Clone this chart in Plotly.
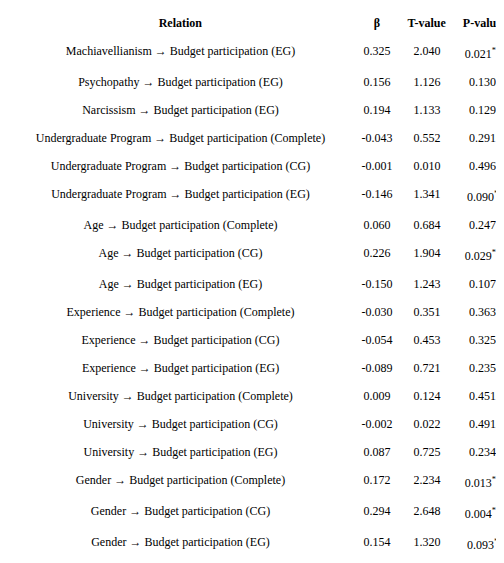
import plotly.graph_objects as go

relations = [
    "Machiavellianism → Budget participation (EG)",
    "Psychopathy → Budget participation (EG)",
    "Narcissism → Budget participation (EG)",
    "Undergraduate Program → Budget participation (Complete)",
    "Undergraduate Program → Budget participation (CG)",
    "Undergraduate Program → Budget participation (EG)",
    "Age → Budget participation (Complete)",
    "Age → Budget participation (CG)",
    "Age → Budget participation (EG)",
    "Experience → Budget participation (Complete)",
    "Experience → Budget participation (CG)",
    "Experience → Budget participation (EG)",
    "University → Budget participation (Complete)",
    "University → Budget participation (CG)",
    "University → Budget participation (EG)",
    "Gender → Budget participation (Complete)",
    "Gender → Budget participation (CG)",
    "Gender → Budget participation (EG)",
]
beta = ["0.325", "0.156", "0.194", "-0.043", "-0.001", "-0.146", "0.060", "0.226", "-0.150",
        "-0.030", "-0.054", "-0.089", "0.009", "-0.002", "0.087", "0.172", "0.294", "0.154"]
t_value = ["2.040", "1.126", "1.133", "0.552", "0.010", "1.341", "0.684", "1.904", "1.243",
           "0.351", "0.453", "0.721", "0.124", "0.022", "0.725", "2.234", "2.648", "1.320"]
p_value = ["0.021<sup>**</sup>", "0.130", "0.129", "0.291", "0.496", "0.090<sup>*</sup>", "0.247",
           "0.029<sup>**</sup>", "0.107", "0.363", "0.325", "0.235", "0.451", "0.491", "0.234",
           "0.013<sup>**</sup>", "0.004<sup>**</sup>", "0.093<sup>*</sup>"]

serif = "Liberation Serif, Times New Roman, serif"
fig = go.Figure(go.Table(
    columnwidth=[345, 48, 52, 59],
    header=dict(
        values=["<b>Relation</b>", "<b>β</b>", "<b>T-value</b>", "<b>P-value</b>"],
        align="center", height=27, fill_color="white", line_color="white",
        font=dict(family=serif, size=12, color="black"),
    ),
    cells=dict(
        values=[relations, beta, t_value, p_value],
        align="center", height=28, fill_color="white", line_color="white",
        font=dict(family=serif, size=12, color="black"),
    ),
))
fig.update_layout(width=504, height=563, margin=dict(l=0, r=0, t=0, b=0),
                  paper_bgcolor="white")
fig.write_html("out.html")
